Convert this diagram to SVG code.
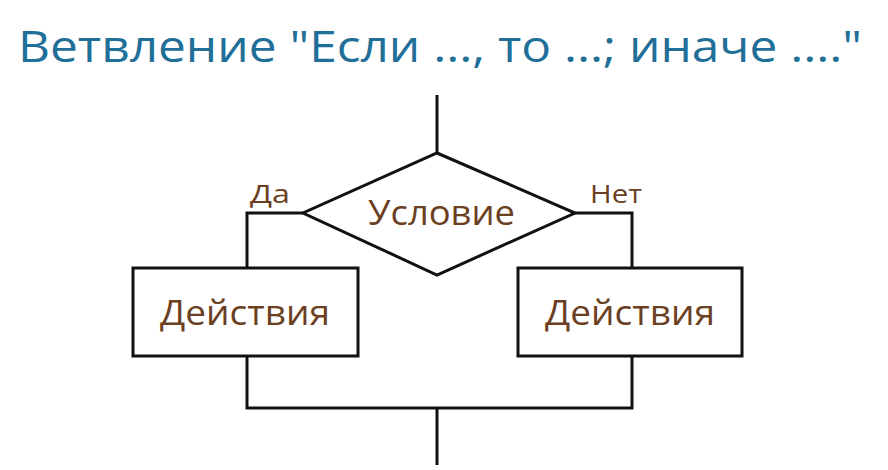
<svg xmlns="http://www.w3.org/2000/svg" width="888" height="470" viewBox="0 0 888 470">
<style>
.ln{fill:none;stroke:#111;stroke-width:3}
.bx{fill:#fff;stroke:#111;stroke-width:3}
.t{font-family:"Open Sans","DejaVu Sans",sans-serif;fill:#6b3f22;font-size:34px}
.s{font-family:"Open Sans","DejaVu Sans",sans-serif;fill:#6b3f22;font-size:25px}
</style>
<rect width="888" height="470" fill="#fff"/>
<text x="18" y="62" font-family="'Open Sans','DejaVu Sans',sans-serif" font-size="44" fill="#1f6f98" textLength="844" lengthAdjust="spacingAndGlyphs">Ветвление "Если ..., то ...; иначе ...."</text>
<g id="connectors">
<path class="ln" d="M437 95V153"/>
<path class="ln" d="M303 213H247V268"/>
<path class="ln" d="M575 213H632V268"/>
<path class="ln" d="M247 356V408H632V356"/>
<path class="ln" d="M437 408V465"/>
</g>
<g id="cond">
<polygon class="bx" points="437,153 575,213 437,275 303,213"/>
<text class="t" x="368" y="225" textLength="147" lengthAdjust="spacingAndGlyphs">Условие</text>
</g>
<g id="yes"><text class="s" x="250" y="203" textLength="40" lengthAdjust="spacingAndGlyphs">Да</text></g>
<g id="no"><text class="s" x="590" y="203" textLength="52" lengthAdjust="spacingAndGlyphs">Нет</text></g>
<g id="act1">
<rect class="bx" x="133" y="268" width="225" height="88"/>
<text class="t" x="160" y="325" textLength="170" lengthAdjust="spacingAndGlyphs">Действия</text>
</g>
<g id="act2">
<rect class="bx" x="518" y="268" width="224" height="88"/>
<text class="t" x="545" y="325" textLength="170" lengthAdjust="spacingAndGlyphs">Действия</text>
</g>
</svg>
